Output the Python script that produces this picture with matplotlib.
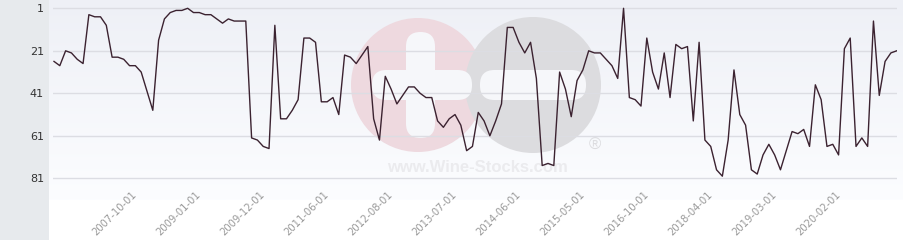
import numpy as np
import matplotlib
matplotlib.use("Agg")
import matplotlib.pyplot as plt
from matplotlib.patches import Circle, Rectangle, FancyBboxPatch

# ---------------------------------------------------------
# Data: rank series (1 = best)
# ---------------------------------------------------------
ranks = [
    26, 28, 21, 22, 25, 27, 4, 5, 5, 9,
    24, 24, 25, 28, 28, 31, 40, 49, 16, 6,
    3, 2, 2, 1, 3, 3, 4, 4, 6, 8,
    6, 7, 7, 7, 62, 63, 66, 67, 9, 53,
    53, 49, 44, 15, 15, 17, 45, 45, 43, 51,
    23, 24, 27, 23, 19, 53, 63, 33, 39, 46,
    42, 38, 38, 41, 43, 43, 54, 57, 53, 51,
    56, 68, 66, 50, 54, 61, 54, 46, 10, 10,
    17, 22, 17, 34, 75, 74, 75, 31, 39, 52,
    35, 30, 21, 22, 22, 25, 28, 34, 1, 43,
    44, 47, 15, 31, 39, 22, 43, 18, 20, 19,
    54, 17, 63, 66, 77, 80, 63, 30, 51, 56,
    77, 79, 70, 65, 70, 77, 68, 59, 60, 58,
    66, 37, 44, 66, 65, 70, 20, 15, 66, 62,
    66, 7, 42, 26, 22, 21,
]

tick_labels = [
    "2007-10-01", "2009-01-01", "2009-12-01", "2011-06-01",
    "2012-08-01", "2013-07-01", "2014-06-01", "2015-05-01",
    "2016-10-01", "2018-04-01", "2019-03-01", "2020-02-01",
]
tick_index = [14, 25, 36, 47, 58, 69, 80, 91, 102, 113, 124, 135]

y_ticks = [1, 21, 41, 61, 81]

# ---------------------------------------------------------
# Figure
# ---------------------------------------------------------
W, H = 904, 240
fig = plt.figure(figsize=(W / 100, H / 100), dpi=100)
fig.patch.set_facecolor("white")

# background layer in pixel coordinates
bg = fig.add_axes([0, 0, 1, 1], zorder=0)
bg.set_xlim(0, W)
bg.set_ylim(H, 0)
bg.axis("off")

grad = np.linspace(0, 1, 200).reshape(-1, 1)
top = np.array([238, 240, 246]) / 255
bottom = np.array([252, 253, 255]) / 255
img = top + (bottom - top) * grad[..., None].squeeze(1)[:, None, :]
bg.imshow(img, extent=(49, W, 200, 0), aspect="auto", interpolation="bilinear")
bg.add_patch(Rectangle((0, 0), 49, H, color="#e7eaed", lw=0))

# watermark
bg.add_patch(Circle((418, 85), 67, color="#eed9df", lw=0))
bg.add_patch(Circle((533, 85), 68, color="#dcdcdf", lw=0))
for x0, y0, w, h in [(406, 32, 29, 106), (372, 70, 100, 30), (480, 70, 106, 30)]:
    bg.add_patch(FancyBboxPatch((x0, y0), w, h,
                                boxstyle="round,pad=0,rounding_size=14.5",
                                color="#f6f7fa", lw=0))
bg.text(477, 167, "www.Wine-Stocks.com", ha="center", va="center",
        fontsize=12, fontweight="bold", family="Liberation Sans", color="#ebebee")
bg.text(595, 145, "®", ha="center", va="center",
        fontsize=12, family="Liberation Sans", color="#dcdcdf")

# ---------------------------------------------------------
# Main chart
# ---------------------------------------------------------
ax = fig.add_axes([53 / W, 50 / H, 844 / W, 190 / H], zorder=2)
ax.patch.set_alpha(0)

x = np.arange(len(ranks))
ax.plot(x, ranks, color="#3b2230", lw=1.0)

step = (896.7 - 54) / (len(ranks) - 1)
ax.set_xlim(-1 / step, len(ranks) - 1 + 0.3 / step)
px = 20 / 42.5
ax.set_ylim(1 + (190 - 8.3) * px, 1 - 8.3 * px)

ax.set_yticks(y_ticks)
ax.set_yticklabels([str(v) for v in y_ticks])
ax.yaxis.grid(True, color="#dcdde3", lw=1)
ax.tick_params(axis="y", length=0, pad=6.5, labelsize=8, labelcolor="#333333")

ax.set_xticks(tick_index)
ax.set_xticklabels(tick_labels, rotation=45, ha="right", va="center",
                   rotation_mode="anchor")
ax.tick_params(axis="x", length=0, pad=2, labelsize=7.2, labelcolor="#999999")

for s in ax.spines.values():
    s.set_visible(False)

fig.savefig("out.png", dpi=100)
